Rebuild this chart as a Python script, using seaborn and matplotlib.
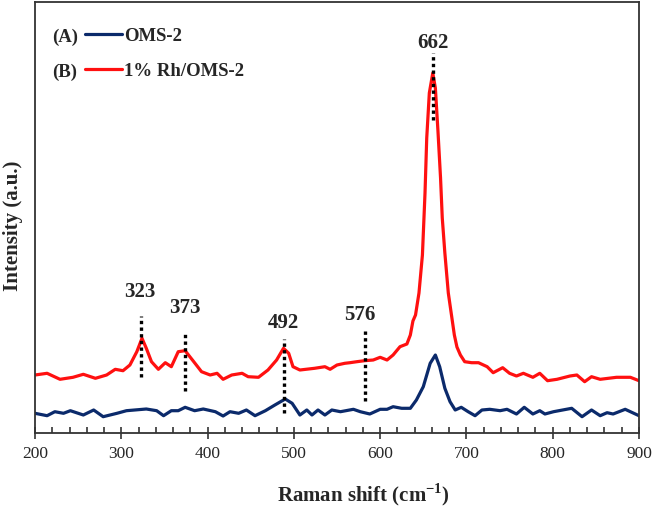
import numpy as np
import pandas as pd
import seaborn as sns
import matplotlib.pyplot as plt
from matplotlib.ticker import MultipleLocator

# Raman spectra (arbitrary intensity units)
oms_x = [200, 214, 223, 233, 241, 256, 268, 279, 295, 306, 329, 341, 349, 358, 366,
         374, 385, 395, 409, 418, 426, 436, 445, 455, 467, 478, 490, 498, 507, 515,
         521, 528, 536, 544, 554, 569, 577, 588, 600, 608, 615, 625, 635, 642, 650,
         658, 664, 669, 675, 681, 687, 694, 702, 710, 718, 727, 739, 747, 758, 767,
         777, 785, 791, 801, 822, 834, 845, 855, 863, 870, 884, 900]
oms_y = [19.7, 17.3, 21.3, 19.7, 22.3, 18, 23, 16.3, 19.7, 22.3, 24, 22.3, 17.3, 22.3, 22.3,
         25.7, 22.3, 24, 21.3, 17, 21.3, 19.7, 23, 17.3, 22.3, 28, 34, 29.7, 18, 23,
         18, 23, 18, 23, 21.3, 23.7, 21.3, 19, 23.7, 23.7, 26.3, 24.7, 24.7, 33, 46.3,
         69.7, 78, 66.3, 44.7, 31.3, 23, 25.7, 21.3, 17.3, 23, 23.7, 22.3, 23.7, 19, 25.7,
         19, 22.3, 19, 21.3, 24.7, 16.3, 23, 17.3, 20.3, 19, 23.7, 17.3]

rh_x = [200, 214, 229, 244, 256, 270, 283, 293, 302, 310, 318, 324, 329, 335, 343,
        351, 358, 366, 374, 384, 393, 403, 411, 418, 428, 440, 447, 459, 470, 480,
        488, 494, 499, 507, 524, 536, 542, 550, 559, 565, 573, 582, 592, 600, 608,
        615, 623, 631, 635, 638, 641, 645, 649, 652, 654, 657, 661, 664, 667, 670,
        672, 675, 679, 683, 686, 689, 693, 698, 706, 714, 724, 731, 742, 750, 758,
        766, 777, 785, 794, 805, 820, 828, 837, 845, 855, 874, 890, 900]
rh_y = [58, 59.7, 53.7, 55.7, 58.7, 54.7, 58, 63.7, 62.3, 68, 81.3, 94.7, 84.7, 71.3, 63.7,
        70.3, 66.3, 81.3, 82.3, 71.3, 61.3, 58, 59.7, 53.7, 58, 59.7, 56.3, 55.7, 63, 73,
        84.7, 79.7, 66.3, 63, 64.7, 66.3, 63.7, 68, 69.7, 70.3, 71.3, 72.3, 73, 75.7, 73,
        78, 86.3, 89, 98, 112, 118, 140, 178, 240, 295, 340, 360, 345, 302, 255,
        215, 180, 140, 116, 98, 86, 78, 71.3, 70.3, 70.3, 66.3, 60.3, 65.3, 59.7, 57,
        59.7, 55.7, 59.7, 52.3, 53.7, 57, 58, 51.3, 56.3, 53.7, 55.7, 55.7, 52.3]

# peak markers
peak_pos = [323, 374, 489, 583, 661]
peak_lo = [56, 42, 20, 32, 313]
peak_hi = [117, 102, 94, 103, 380]
peak_text = ["323", "373", "492", "576", "662"]
peak_text_x = [321, 374, 488, 577, 661]
peak_text_y = [141, 125, 110, 118, 390]

df = pd.concat([
    pd.DataFrame({"shift": oms_x, "intensity": oms_y, "sample": "OMS-2"}),
    pd.DataFrame({"shift": rh_x, "intensity": rh_y, "sample": "1% Rh/OMS-2"}),
])

sns.set_style("ticks")
plt.rcParams['font.family'] = ['Liberation Serif', 'DejaVu Serif']
plt.rcParams['mathtext.fontset'] = 'custom'
plt.rcParams['mathtext.rm'] = 'Liberation Serif:bold'
plt.rcParams['mathtext.bf'] = 'Liberation Serif:bold'

fig = plt.figure(figsize=(6.53, 5.08), dpi=100)
ax = fig.add_axes([35 / 653, 75 / 508, 604 / 653, 431 / 508])

sns.lineplot(data=df, x="shift", y="intensity", hue="sample",
             palette={"OMS-2": "#0b2a6b", "1% Rh/OMS-2": "#ff1010"},
             estimator=None, sort=False, linewidth=2.3, legend=False, ax=ax)

ax.vlines(peak_pos, peak_lo, peak_hi, colors="black", linewidth=2.4,
          linestyles=(0, (1, 1)))
for px, py, t in zip(peak_text_x, peak_text_y, peak_text):
    ax.text(px, py, t, ha="center", va="center", fontsize=15, fontweight="bold")

ax.set_xlim(200, 900)
ax.set_ylim(0, 431)
ax.set_yticks([])
ax.xaxis.set_major_locator(MultipleLocator(100))
ax.xaxis.set_minor_locator(MultipleLocator(20))
ax.tick_params(axis="x", which="major", direction="inout", length=9, width=1.2,
               labelsize=12.5, pad=5, color="#333333")
ax.tick_params(axis="x", which="minor", direction="in", length=4, width=1.2,
               color="#333333")
for s in ax.spines.values():
    s.set_visible(True)
    s.set_color("#333333")
    s.set_linewidth(1.3)

ax.set_xlabel(r"Raman shift (cm$^{-1}$)", fontsize=15, fontweight="bold")
ax.xaxis.set_label_coords(0.543, -0.112)
ax.set_ylabel("Intensity (a.u.)", fontsize=15, fontweight="bold")
ax.yaxis.set_label_coords(-0.02, 0.48)

lines = ax.get_lines()
ax.legend(handles=[lines[0], lines[1]], labels=["OMS-2", "1% Rh/OMS-2"],
          loc="upper left", bbox_to_anchor=(0.083, 0.94), frameon=False,
          borderpad=0, borderaxespad=0, handlelength=1.95, handletextpad=0.12,
          labelspacing=0.95, prop={"weight": "bold", "size": 13.5})
ax.text(0.0276, 0.917, "(A)", transform=ax.transAxes, va="center",
        fontsize=13.5, fontweight="bold")
ax.text(0.0276, 0.836, "(B)", transform=ax.transAxes, va="center",
        fontsize=13.5, fontweight="bold")

plt.savefig("out.png", dpi=100)
